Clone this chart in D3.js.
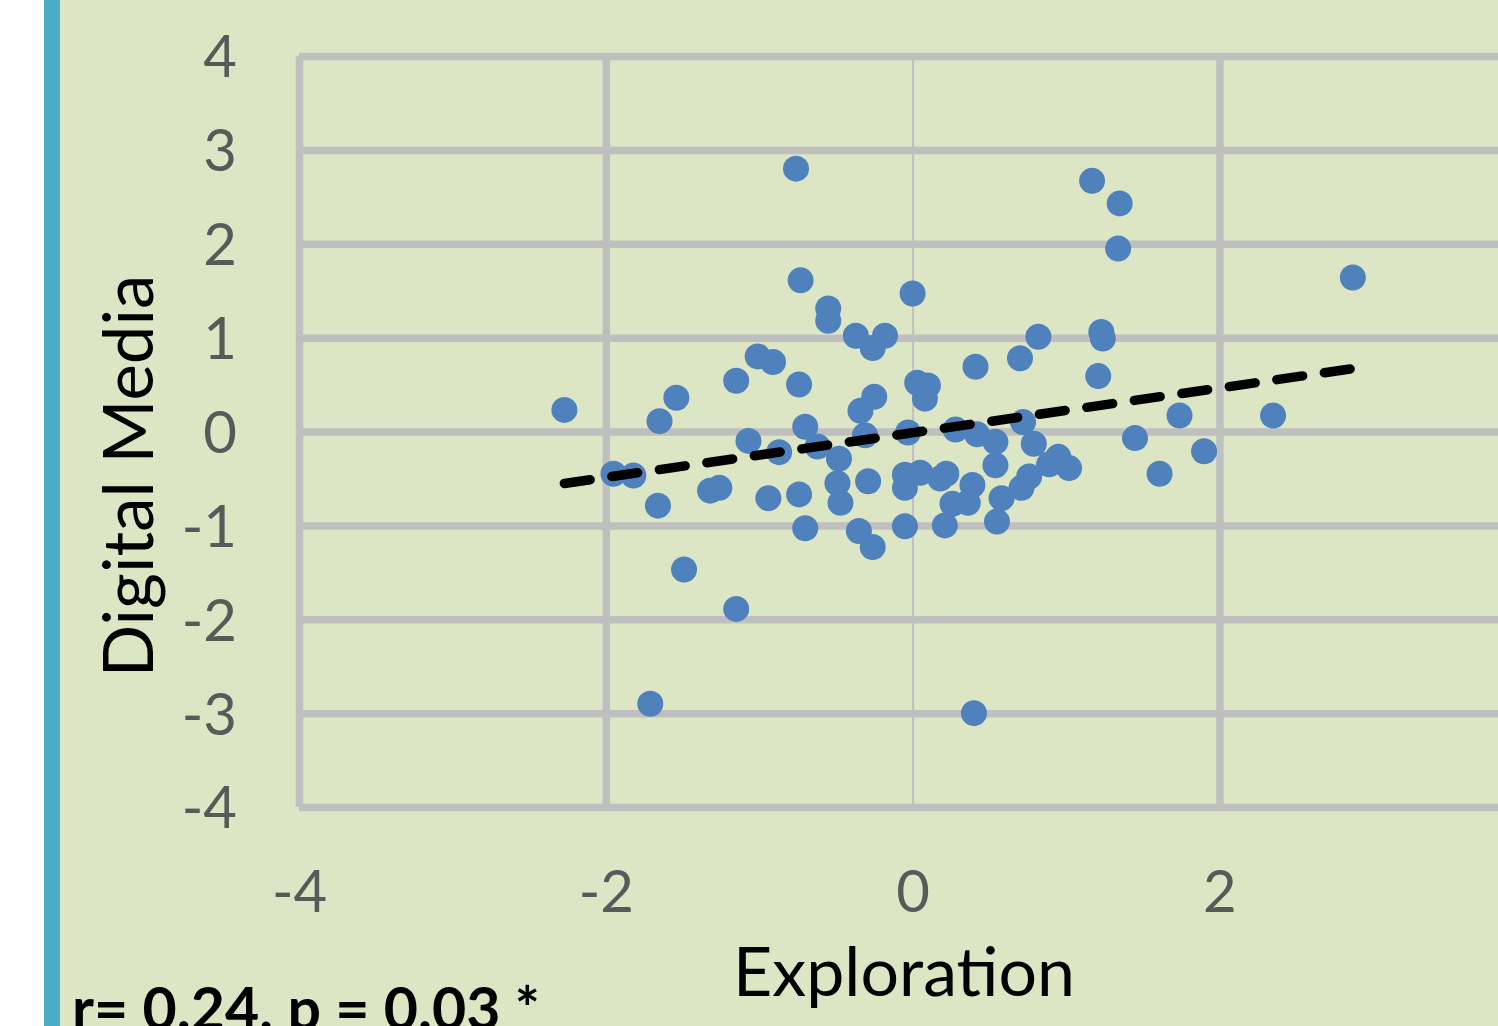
<!DOCTYPE html>
<html>
<head>
<meta charset="utf-8">
<script src="https://cdn.jsdelivr.net/npm/d3@7"></script>
<style>
  body { margin: 0; background: #fff; }
  svg { display: block; font-family: Lato, "Open Sans", sans-serif; }
</style>
</head>
<body>
<div id="chart"></div>
<script>
// values
const exploration = [-0.76, 1.17, 1.35, 1.34, 2.87, -0.73, 0.00, -0.55, -0.55, -0.37,
  -0.18, -0.26, 0.82, 1.23, 1.24, -1.01, -0.91, 0.41, 0.70, -1.15,
  -0.74, 1.21, 0.03, 0.10, 0.08, -0.25, -0.34, -1.54, -2.27, -1.65,
  -0.70, -0.31, -0.03, 0.28, 0.42, 0.54, 0.72, 0.79, 1.74, 2.35,
  1.45, -1.07, -0.87, -0.62, -0.48, -1.95, -1.82, 1.61, 1.90, 0.95,
  1.02, 0.89, 0.54, -0.05, 0.05, 0.22, 0.18, 0.76, 0.71, 0.39,
  -0.05, -0.29, -0.49, -0.47, -1.32, -1.26, -1.66, -0.94, -0.74, 0.26,
  0.36, 0.58, -0.70, -0.05, 0.21, 0.55, -0.35, -0.26, -1.49, -1.15,
  -1.71, 0.40]
const digitalMedia = [2.80, 2.67, 2.43, 1.95, 1.64, 1.61, 1.47, 1.31, 1.18, 1.02,
  1.02, 0.89, 1.01, 1.06, 0.99, 0.80, 0.74, 0.69, 0.78, 0.54,
  0.50, 0.59, 0.52, 0.49, 0.35, 0.37, 0.22, 0.36, 0.23, 0.11,
  0.05, -0.04, -0.01, 0.02, -0.03, -0.11, 0.10, -0.13, 0.17, 0.17,
  -0.07, -0.10, -0.22, -0.16, -0.29, -0.45, -0.47, -0.45, -0.21, -0.27,
  -0.39, -0.35, -0.36, -0.46, -0.44, -0.45, -0.50, -0.48, -0.60, -0.57,
  -0.60, -0.53, -0.55, -0.76, -0.63, -0.60, -0.79, -0.71, -0.67, -0.77,
  -0.76, -0.71, -1.03, -1.01, -1.00, -0.96, -1.06, -1.23, -1.47, -1.89,
  -2.90, -3.00]
// the 4 label of the x axis falls outside the visible picture
const xTicks = [-4, -2, 0, 2]
const xGrid = [-4, -2, 0, 2, 4]
const yTicks = [-4, -3, -2, -1, 0, 1, 2, 3, 4]
const trendSlope = 0.238
const trendIntercept = -0.013
const xTitle = 'Exploration'
const yTitle = 'Digital Media'
const statsNote = 'r= 0.24, p = 0.03 *'

;(function () {
  const W = 1498
  const H = 1026

  const svg = d3.select('#chart').append('svg')
    .attr('width', W)
    .attr('height', H)

  // panel background + blue side bar
  svg.append('rect').attr('x', 60).attr('y', 0).attr('width', W - 60).attr('height', H).attr('fill', '#dce6c5')
  svg.append('rect').attr('x', 44).attr('y', 0).attr('width', 16).attr('height', H).attr('fill', '#4bacc6')

  const xPositionScale = d3.scaleLinear()
    .domain([-4, 4])
    .range([299, 299 + 8 * 153.4])

  const yPositionScale = d3.scaleLinear()
    .domain([-4, 4])
    .range([807, 56])

  const plotTop = yPositionScale(4)
  const plotBottom = yPositionScale(-4)
  const plotLeft = xPositionScale(-4)

  // horizontal grid + y labels (plain hyphen like the original, not the unicode minus)
  const yAxis = d3.axisLeft(yPositionScale)
    .tickValues(yTicks)
    .tickSize(-(W - plotLeft + 20))
    .tickFormat(d => String(d))
  const yg = svg.append('g')
    .attr('class', 'axis y-axis')
    .attr('transform', 'translate(' + plotLeft + ',0)')
    .call(yAxis)
  yg.select('.domain').remove()
  yg.selectAll('line').attr('stroke', '#bfbfbf').attr('stroke-width', 7.5)
  yg.selectAll('text')
    .attr('x', -62)
    .attr('dy', '0.36em')
    .attr('fill', '#595959')
    .style('font-size', '58px')
    .style('font-family', 'Lato, sans-serif')

  // vertical grid lines
  const xGridAxis = d3.axisBottom(xPositionScale)
    .tickValues(xGrid)
    .tickSize(-(plotBottom - plotTop))
    .tickFormat('')
  const xg = svg.append('g')
    .attr('class', 'axis x-grid')
    .attr('transform', 'translate(0,' + plotBottom + ')')
    .call(xGridAxis)
  xg.select('.domain').remove()
  xg.selectAll('line')
    .attr('stroke', '#bfbfbf')
    .attr('stroke-width', d => d === 0 ? 2 : 7.5)

  // x labels
  const xLabelAxis = d3.axisBottom(xPositionScale)
    .tickValues(xTicks)
    .tickSize(0)
    .tickFormat(d => String(d))
  const xl = svg.append('g')
    .attr('class', 'axis x-axis')
    .attr('transform', 'translate(0,' + plotBottom + ')')
    .call(xLabelAxis)
  xl.select('.domain').remove()
  xl.selectAll('text')
    .attr('y', 84)
    .attr('dy', '0.36em')
    .attr('fill', '#595959')
    .style('font-size', '58px')
    .style('font-family', 'Lato, sans-serif')

  // points
  const datapoints = exploration.map((x, i) => ({ x: x, y: digitalMedia[i] }))
  svg.append('g').selectAll('circle')
    .data(datapoints)
    .join('circle')
    .attr('r', 13)
    .attr('cx', d => xPositionScale(d.x))
    .attr('cy', d => yPositionScale(d.y))
    .attr('fill', '#4f81bd')

  // linear trend line over the data range
  const xExtent = d3.extent(exploration)
  svg.append('line')
    .attr('x1', xPositionScale(xExtent[0]))
    .attr('y1', yPositionScale(trendIntercept + trendSlope * xExtent[0]))
    .attr('x2', xPositionScale(xExtent[1]))
    .attr('y2', yPositionScale(trendIntercept + trendSlope * xExtent[1]))
    .attr('stroke', '#000')
    .attr('stroke-width', 9.5)
    .attr('stroke-linecap', 'round')
    .attr('stroke-dasharray', '26,22')

  // titles
  svg.append('text')
    .attr('x', 904)
    .attr('y', 996)
    .attr('text-anchor', 'middle')
    .attr('fill', '#000')
    .style('font-size', '68px')
    .text(xTitle)

  svg.append('text')
    .attr('transform', 'translate(153,476) rotate(-90)')
    .attr('text-anchor', 'middle')
    .attr('fill', '#000')
    .style('font-size', '69px')
    .text(yTitle)

  // stats note, clipped by the bottom edge as in the original
  svg.append('text')
    .attr('x', 72)
    .attr('y', 1030)
    .attr('fill', '#000')
    .style('font-size', '59px')
    .style('font-weight', 'bold')
    .text(statsNote)
})();
</script>
</body>
</html>
